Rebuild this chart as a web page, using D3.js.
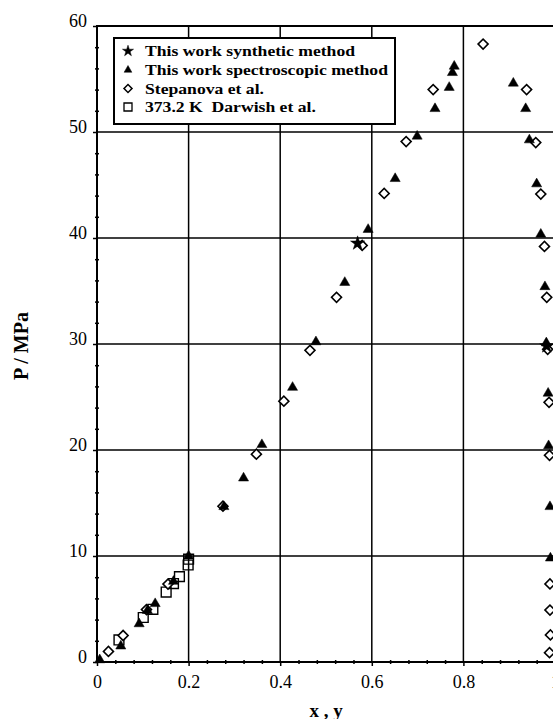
<!DOCTYPE html>
<html>
<head>
<meta charset="utf-8">
<script src="https://cdn.jsdelivr.net/npm/d3@7/dist/d3.min.js"></script>
<style>
  html, body { margin: 0; padding: 0; background: #fff; }
  svg { display: block; }
</style>
</head>
<body>
<script>
// Phase equilibrium data: liquid (x) and vapour (y) compositions vs pressure P / MPa
const synthetic = [ // This work, synthetic method [x or y, P]
  [0.569, 39.5], [0.982, 29.8]
];
const spectroscopic = [ // This work, spectroscopic method
  [0.006, 0.2], [0.052, 1.5], [0.092, 3.6], [0.110, 4.85], [0.127, 5.5],
  [0.167, 7.6], [0.200, 10.0], [0.277, 14.65], [0.320, 17.35], [0.360, 20.5],
  [0.427, 25.9], [0.478, 30.2], [0.541, 35.8], [0.592, 40.8], [0.651, 45.6],
  [0.699, 49.6], [0.738, 52.2], [0.769, 54.2], [0.776, 55.6], [0.780, 56.2],
  [0.909, 54.6], [0.936, 52.2], [0.944, 49.25], [0.960, 45.1], [0.969, 40.35],
  [0.978, 35.4], [0.981, 30.1], [0.985, 25.35], [0.986, 20.4], [0.989, 14.65],
  [0.990, 9.8]
];
const stepanova = [ // Stepanova et al.
  [0.025, 1.0], [0.057, 2.5], [0.108, 4.95], [0.155, 7.35], [0.275, 14.7],
  [0.348, 19.6], [0.408, 24.6], [0.465, 29.4], [0.523, 34.4], [0.579, 39.3],
  [0.627, 44.2], [0.675, 49.1], [0.734, 54.0], [0.843, 58.3], [0.938, 54.0],
  [0.958, 49.0], [0.969, 44.15], [0.977, 39.2], [0.982, 34.4], [0.984, 29.5],
  [0.987, 24.5], [0.988, 19.5], [0.989, 7.36], [0.989, 4.9], [0.990, 2.55],
  [0.988, 0.88]
];
const darwish = [ // 373.2 K, Darwish et al.
  [0.048, 2.08], [0.101, 4.2], [0.122, 4.97], [0.151, 6.6], [0.167, 7.4],
  [0.180, 8.05], [0.199, 9.15], [0.200, 9.7]
];
const legendLabels = [
  "This work synthetic method",
  "This work spectroscopic method",
  "Stepanova et al.",
  "373.2 K  Darwish et al."
];
const xMajor = [0, 0.2, 0.4, 0.6, 0.8, 1];
const xTickLabels = ["0", "0.2", "0.4", "0.6", "0.8", "1"];
const yMajor = [0, 10, 20, 30, 40, 50, 60];
const xMinor = d3.range(0, 1.0001, 0.04).filter(v => Math.abs(v * 5 - Math.round(v * 5)) > 1e-6);
const yMinor = d3.range(0, 60.001, 2).filter(v => v % 10 !== 0);

const W = 553, H = 719;
const serif = "'Liberation Serif', 'Times New Roman', serif";

const svg = d3.select("body").append("svg")
  .attr("width", W).attr("height", H)
  .style("font-family", serif);

const x = d3.scaleLinear().domain([0, 1]).range([97, 555]);
const y = d3.scaleLinear().domain([0, 60]).range([662, 26]);

// grid lines at major ticks
const grid = svg.append("g").attr("stroke", "#000").attr("stroke-width", 1.5);
grid.selectAll(".gv").data(xMajor.slice(1, -1)).join("line")
  .attr("x1", d => x(d)).attr("x2", d => x(d))
  .attr("y1", y(0)).attr("y2", y(60));
grid.selectAll(".gh").data(yMajor.slice(1, -1)).join("line")
  .attr("x1", x(0)).attr("x2", x(1))
  .attr("y1", d => y(d)).attr("y2", d => y(d));

// frame
svg.append("rect")
  .attr("x", x(0)).attr("y", y(60))
  .attr("width", x(1) - x(0)).attr("height", y(0) - y(60))
  .attr("fill", "none").attr("stroke", "#000").attr("stroke-width", 2);

// axes
const fmtX = d => xTickLabels[xMajor.indexOf(d)];
const xAxis = svg.append("g").attr("transform", `translate(0,${y(0)})`)
  .call(d3.axisBottom(x).tickValues(xMajor).tickFormat(fmtX).tickSize(4).tickPadding(9));
const yAxis = svg.append("g").attr("transform", `translate(${x(0)},0)`)
  .call(d3.axisLeft(y).tickValues(yMajor).tickFormat(d3.format("d")).tickSize(4).tickPadding(6));
[xAxis, yAxis].forEach(g => {
  g.select(".domain").remove();
  g.selectAll("line").attr("stroke", "#000").attr("stroke-width", 1.5);
  g.selectAll("text").attr("fill", "#000")
    .style("font-family", serif).style("font-size", "18px");
});
yAxis.selectAll("text").attr("dy", "0.02em");

// minor ticks, straddling the axis lines
svg.append("g").attr("transform", `translate(0,${y(0) + 2})`)
  .call(d3.axisTop(x).tickValues(xMinor).tickFormat("").tickSize(4))
  .call(g => g.select(".domain").remove())
  .selectAll("line").attr("stroke", "#000").attr("stroke-width", 1.5);
svg.append("g").attr("transform", `translate(${x(0) + 2},0)`)
  .call(d3.axisLeft(y).tickValues(yMinor).tickFormat("").tickSize(4))
  .call(g => g.select(".domain").remove())
  .selectAll("line").attr("stroke", "#000").attr("stroke-width", 1.5);

// axis titles
svg.append("text")
  .attr("transform", `translate(28,${(y(0) + y(60)) / 2 + 2}) rotate(-90)`)
  .attr("text-anchor", "middle")
  .style("font-size", "20px").style("font-weight", "bold")
  .text("P / MPa");
svg.append("text")
  .attr("x", (x(0) + x(1)) / 2).attr("y", 717)
  .attr("text-anchor", "middle")
  .style("font-size", "19px").style("font-weight", "bold")
  .text("x , y");

// marker shapes
const star = d3.symbol().type(d3.symbolStar);
const tri = d3.symbol().type(d3.symbolTriangle);
const sq = d3.symbol().type(d3.symbolSquare);

const marks = svg.append("g");
function plot(data, path, fill, sw, rot) {
  marks.append("g").selectAll("path").data(data).join("path")
    .attr("d", path)
    .attr("transform", d => `translate(${x(d[0])},${y(d[1])})` + (rot ? ` rotate(${rot})` : ""))
    .attr("fill", fill).attr("stroke", "#000").attr("stroke-width", sw);
}
plot(darwish, sq.size(96)(), "none", 1.4);
plot(stepanova, sq.size(50)(), "#fff", 1.6, 45);
plot(spectroscopic, tri.size(44)(), "#000", 0.5);
plot(synthetic, star.size(62)(), "#000", 0.5);

// legend (wide bold serif lettering)
const lg = svg.append("g");
lg.append("rect")
  .attr("x", 114).attr("y", 38).attr("width", 281).attr("height", 86)
  .attr("fill", "#fff").attr("stroke", "#000").attr("stroke-width", 2);
const rows = [51, 70, 88.5, 107];
const legendMarks = [
  { d: star.size(38)(), fill: "#000", sw: 0.5, rot: 0 },
  { d: tri.size(26)(), fill: "#000", sw: 0.5, rot: 0 },
  { d: sq.size(32)(), fill: "#fff", sw: 1.5, rot: 45 },
  { d: sq.size(64)(), fill: "#fff", sw: 1.3, rot: 0 }
];
legendLabels.forEach((t, i) => {
  const m = legendMarks[i];
  lg.append("path").attr("d", m.d)
    .attr("transform", `translate(128,${rows[i]}) rotate(${m.rot})`)
    .attr("fill", m.fill).attr("stroke", "#000").attr("stroke-width", m.sw);
  lg.append("text")
    .attr("transform", `translate(145,${rows[i] + 5}) scale(1.26,1)`)
    .style("font-size", "14px").style("font-weight", "bold")
    .style("white-space", "pre")
    .text(t);
});
</script>
</body>
</html>
